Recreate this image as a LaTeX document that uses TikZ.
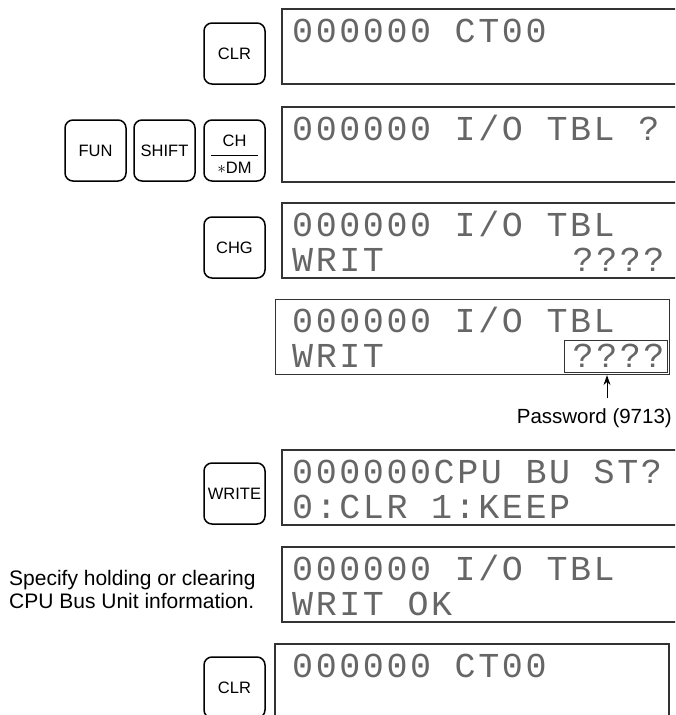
\documentclass[tikz,border=0pt]{standalone}
\usepackage{fontspec}
\setmainfont{Liberation Sans}
\newfontfamily\lcdfont[LetterSpace=7.4]{Liberation Mono}
\usetikzlibrary{arrows.meta}
\frenchspacing
\tikzset{
  keycap/.style={draw=black, line width=1.5pt, rounded corners=8pt,
    minimum width=61pt, minimum height=61pt, inner sep=0pt,
    font=\fontsize{16.5}{18}\selectfont},
  keylabel/.style={inner sep=0pt, font=\fontsize{16.5}{18}\selectfont},
  lcdline/.style={anchor=base west, inner sep=0pt, text=black!60,
    text height=21pt, text depth=0pt,
    font=\lcdfont\fontsize{35}{36}\selectfont},
  dispframe/.style={draw=black!80, line width=1.1pt},
  note/.style={inner sep=0pt, font=\fontsize{21}{23}\selectfont, align=left},
}
\begin{document}
\begin{tikzpicture}[x=1pt,y=-1pt]
\useasboundingbox (0,0) rectangle (675,715);
\clip (0,0) rectangle (675,715);

% open displays (cut by right edge)
\foreach \t in {9,107,203,450,547}{
  \draw[dispframe] (690,\t) -- (282,\t) -- (282,\t+75) -- (690,\t+75);
}
% closed display 4
\node[dispframe, rectangle, minimum width=394pt, minimum height=75pt,
  inner sep=0pt, anchor=north west] (disp4) at (275,299) {};
% display 7 (cut by bottom edge)
\draw[dispframe] (275,740) -- (275,644) -- (669,644) -- (669,740);

% LCD text
\node[lcdline] (l1a) at (292,42) {000000 CT00};
\node[lcdline] (l2a) at (292,140) {000000 I/O TBL ?};
\node[lcdline] (l3a) at (292,236) {000000 I/O TBL};
\node[lcdline] (l3b) at (292,271) {WRIT\ \ \ \ \ \ \ \ ????};
\node[lcdline] (l4a) at (292,332) {000000 I/O TBL};
\node[lcdline] (l4b) at (292,367) {WRIT\ \ \ \ \ \ \ \ ????};
\node[lcdline] (l5a) at (292,483) {000000CPU BU ST?};
\node[lcdline] (l5b) at (292,518) {0:CLR 1:KEEP};
\node[lcdline] (l6a) at (292,580) {000000 I/O TBL};
\node[lcdline] (l6b) at (292,615) {WRIT OK};
\node[lcdline] (l7a) at (292,677) {000000 CT00};

% password box and arrow
\node[draw=black!80, line width=1pt, rectangle, minimum width=103pt,
  minimum height=32pt, inner sep=0pt, anchor=north west] (pwbox) at (564,340) {};
\node[anchor=base east, inner sep=0pt, font=\fontsize{20.5}{22}\selectfont]
  (pwtext) at (672,423) {Password (9713)};
\coordinate (arrowfoot) at (607,398);
\draw[-{Stealth[length=10pt,width=7pt]}, line width=1pt]
  (arrowfoot) -- (arrowfoot |- disp4.south);

% keys
\node[keycap] (kclr1) at (234.5,53.5) {CLR};
\node[keycap] (kfun) at (95.5,150.5) {FUN};
\node[keycap] (kshift) at (164.5,150.5) {SHIFT};
\node[keycap] (kch) at (234.5,150.5) {};
\node[keylabel] (kchtop) at (234.5,141) {CH};
\node[keylabel] (kchbot) at (234.5,168) {$\ast$DM};
\draw[line width=1.2pt] (211,155.5) -- (258,155.5);
\node[keycap] (kchg) at (234.5,247.5) {CHG};
\node[keycap] (kwrite) at (234.5,493.5) {WRITE};
\node[keycap] (kclr2) at (234.5,687.5) {CLR};

% side note
\node[note, anchor=north west] (spec) at (9,569.7)
  {Specify holding or clearing\\CPU Bus Unit information.};
\end{tikzpicture}
\end{document}
